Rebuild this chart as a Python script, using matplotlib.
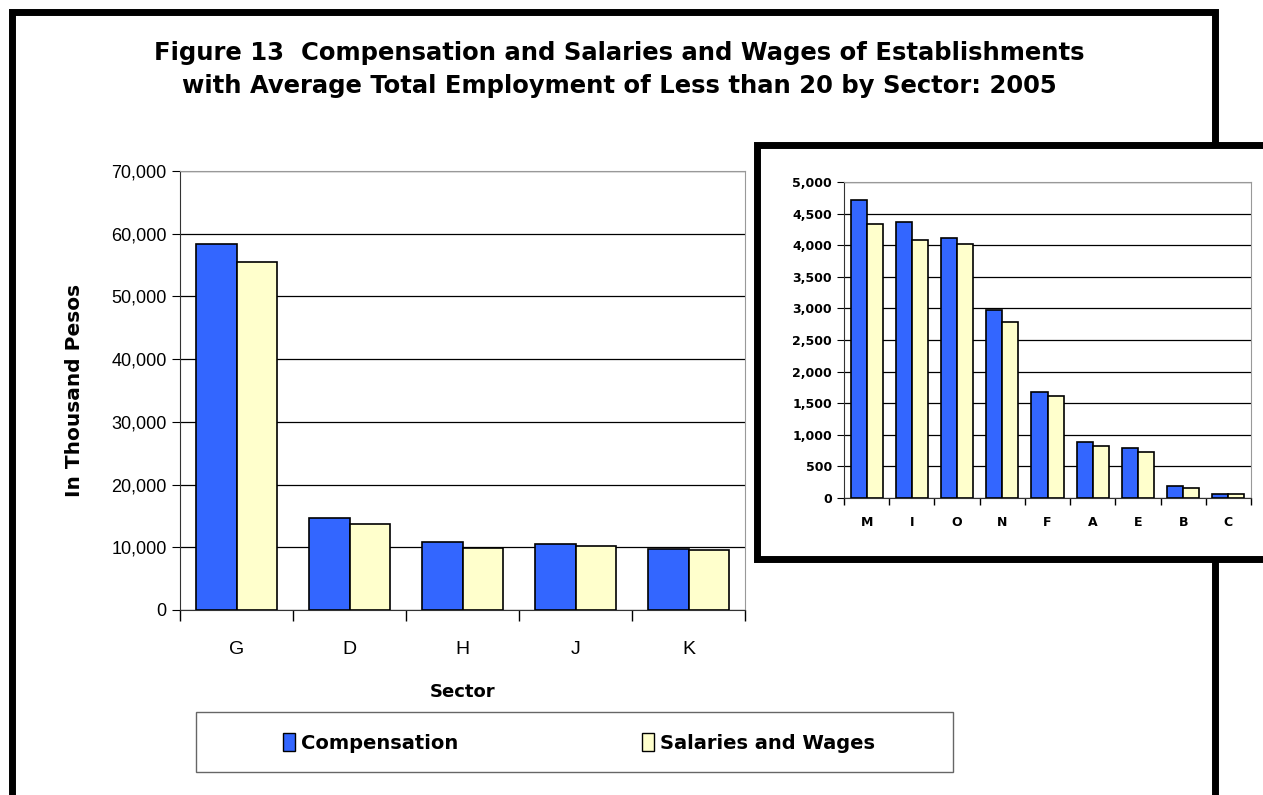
import numpy as np
import matplotlib
matplotlib.use("Agg")
import matplotlib.pyplot as plt
from matplotlib.patches import Rectangle, Patch
from matplotlib.ticker import FuncFormatter, FixedLocator

main_sectors = ["G", "D", "H", "J", "K"]
main_comp = [58400, 14600, 10800, 10500, 9800]
main_sal = [55500, 13700, 9900, 10200, 9600]

inset_sectors = ["M", "I", "O", "N", "F", "A", "E", "B", "C"]
inset_comp = [4710, 4372, 4113, 2973, 1679, 887, 797, 190, 69]
inset_sal = [4330, 4087, 4018, 2788, 1616, 829, 734, 158, 69]

BLUE = "#3366FF"
YELLOW = "#FFFFCC"
W, H = 1263, 795
BOLD = "DejaVu Sans"

fig = plt.figure(figsize=(W / 100, H / 100), dpi=100)


def fx(px):
    return px / W


def fy(py):
    return 1 - py / H


# outer frame
fig.patches.append(Rectangle((fx(12), fy(830)), fx(1203), fy(12) - fy(830),
                             transform=fig.transFigure, fill=False,
                             lw=5, ec="black", zorder=0))

fig.text(fx(619), fy(53), "Figure 13  Compensation and Salaries and Wages of Establishments",
         ha="center", va="center", fontsize=17.5, fontweight="bold", family=BOLD)
fig.text(fx(619), fy(86), "with Average Total Employment of Less than 20 by Sector: 2005",
         ha="center", va="center", fontsize=17.5, fontweight="bold", family=BOLD)

comma = FuncFormatter(lambda v, p: f"{int(v):,}")


def grouped(ax, cats, a, b):
    x = np.arange(len(cats))
    w = 0.354
    ax.bar(x - w / 2, a, w, color=BLUE, edgecolor="black", lw=1.2, zorder=3)
    ax.bar(x + w / 2, b, w, color=YELLOW, edgecolor="black", lw=1.2, zorder=3)
    ax.set_xlim(-0.5, len(cats) - 0.5)
    ax.set_xticks(x)
    ax.set_xticklabels(cats)
    ax.xaxis.set_minor_locator(FixedLocator(np.arange(len(cats) + 1) - 0.5))
    ax.tick_params(axis="x", which="major", length=0)
    ax.tick_params(axis="x", which="minor", length=8, width=1, direction="out")
    ax.yaxis.grid(True, color="black", lw=0.9, zorder=0)
    ax.yaxis.set_major_formatter(comma)
    for s in ["top", "right"]:
        ax.spines[s].set_color("#999999")
    for s in ["left", "bottom"]:
        ax.spines[s].set_color("#333333")
    ax.tick_params(axis="y", length=6, direction="out")


# main chart
ax = fig.add_axes([fx(180), fy(610), fx(565), fy(171) - fy(610)])
grouped(ax, main_sectors, main_comp, main_sal)
ax.set_ylim(0, 70000)
ax.set_yticks(np.arange(0, 70001, 10000))
for lab in ax.get_yticklabels():
    lab.set_family("Liberation Sans")
    lab.set_fontsize(13)
for lab in ax.get_xticklabels():
    lab.set_family("Liberation Sans")
    lab.set_fontsize(14)
ax.tick_params(axis="x", which="major", pad=22)
ax.set_ylabel("In Thousand Pesos", fontsize=14.5, fontweight="bold", family=BOLD, labelpad=20)
ax.set_xlabel("Sector", fontsize=13, fontweight="bold", family=BOLD, labelpad=18)

# legend box
fig.patches.append(Rectangle((fx(196), fy(772)), fx(757), fy(712) - fy(772),
                             transform=fig.transFigure, fill=False,
                             lw=1, ec="#666666", zorder=1))
handles = [Patch(facecolor=BLUE, edgecolor="black"), Patch(facecolor=YELLOW, edgecolor="black")]
fig.legend(handles, ["Compensation", "Salaries and Wages"], loc="center",
           bbox_to_anchor=(fx(579), fy(743)), ncol=2, frameon=False,
           handlelength=0.6, handleheight=1.0, handletextpad=0.3, columnspacing=9.5,
           prop={"family": BOLD, "weight": "bold", "size": 14})

# inset box
fig.patches.append(Rectangle((fx(757), fy(559)), fx(520), fy(145) - fy(559),
                             transform=fig.transFigure, fc="white",
                             lw=5, ec="black", zorder=2))

ax2 = fig.add_axes([fx(844), fy(498), fx(407), fy(182) - fy(498)])
ax2.set_zorder(5)
grouped(ax2, inset_sectors, inset_comp, inset_sal)
ax2.set_ylim(0, 5000)
ax2.set_yticks(np.arange(0, 5001, 500))
for lab in ax2.get_yticklabels() + ax2.get_xticklabels():
    lab.set_family(BOLD)
    lab.set_fontweight("bold")
    lab.set_fontsize(9)
ax2.tick_params(axis="x", which="major", pad=13)
ax2.tick_params(axis="x", which="minor", length=5)
ax2.tick_params(axis="y", length=5)

fig.savefig("out.png", dpi=100)
